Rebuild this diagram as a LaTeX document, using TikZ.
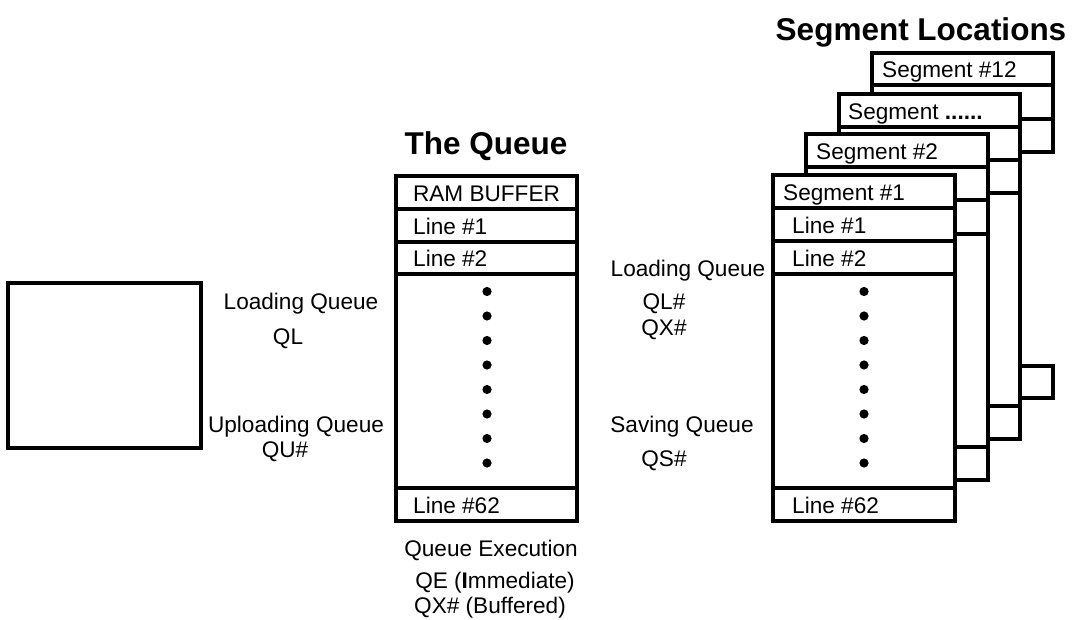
\documentclass[tikz,border=0pt]{standalone}
\usepackage{fontspec}
\setmainfont{Liberation Sans}
\begin{document}
\begin{tikzpicture}[x=1pt,y=-1pt,
  box/.style={draw=black,line width=3.6pt,fill=white},
  rowline/.style={draw=black,line width=3.6pt},
  lbl/.style={inner sep=0pt,font=\fontsize{22.6}{26}\selectfont,text height=16.2pt,text depth=0pt},
  ttl/.style={inner sep=0pt,font=\fontsize{31.5}{36}\selectfont\bfseries,text height=22.7pt,text depth=0pt},
  dotmark/.style={fill=black}]
\useasboundingbox (0,0) rectangle (1073,620);

% left box
\draw[box] (8,283) rectangle (201,448);

% titles
\node[ttl] (tq) at (486,143) {The Queue};
\node[ttl] (tsl) at (921,29) {Segment Locations};

% ===== The queue =====
\draw[box] (396,176) rectangle (577,521);
\draw[rowline] (396,209) -- (577,209);
\draw[rowline] (396,242) -- (577,242);
\draw[rowline] (396,274) -- (577,274);
\draw[rowline] (396,488) -- (577,488);
\node[lbl] (qram) at (486.5,193) {RAM BUFFER};
\node[lbl,anchor=west] (ql1) at (413,226) {Line \#1};
\node[lbl,anchor=west] (ql2) at (413,258) {Line \#2};
\node[lbl,anchor=west] (ql62) at (413,505) {Line \#62};
\foreach \i in {0,...,7} {
  \fill[dotmark] (487,{291.5+24.5*\i}) circle (4.6pt);
}

% ===== Segment #12 (back, only visible parts) =====
\draw[box] (872,53) rectangle (1053,152);
\draw[rowline] (872,85) -- (1053,85);
\draw[rowline] (872,119) -- (1053,119);
\draw[box] (872,366) rectangle (1053,398);
\node[lbl,anchor=west] (s12) at (882,69) {Segment \#12};

% ===== Segment ...... =====
\draw[box] (839,94) rectangle (1020,439);
\draw[rowline] (839,127) -- (1020,127);
\draw[rowline] (839,160) -- (1020,160);
\draw[rowline] (839,193) -- (1020,193);
\draw[rowline] (839,406) -- (1020,406);
\node[lbl,anchor=west] (sdd) at (848,111) {Segment \textbf{......}};

% ===== Segment #2 =====
\draw[box] (806,134) rectangle (988,480);
\draw[rowline] (806,167) -- (988,167);
\draw[rowline] (806,200) -- (988,200);
\draw[rowline] (806,234) -- (988,234);
\draw[rowline] (806,447) -- (988,447);
\node[lbl,anchor=west] (s2) at (816,151) {Segment \#2};

% ===== Segment #1 =====
\draw[box] (773,175) rectangle (955,521);
\draw[rowline] (773,208) -- (955,208);
\draw[rowline] (773,241) -- (955,241);
\draw[rowline] (773,274) -- (955,274);
\draw[rowline] (773,488) -- (955,488);
\node[lbl,anchor=west] (s1) at (783,192) {Segment \#1};
\node[lbl,anchor=west] (s1l1) at (792,225) {Line \#1};
\node[lbl,anchor=west] (s1l2) at (792,258) {Line \#2};
\node[lbl,anchor=west] (s1l62) at (792,505) {Line \#62};
\foreach \i in {0,...,7} {
  \fill[dotmark] (864,{291.5+24.5*\i}) circle (4.6pt);
}

% ===== left labels =====
\node[lbl] (lq) at (301,301) {Loading Queue};
\node[lbl] (ql) at (288,336) {QL};
\node[lbl] (uq) at (296,424) {Uploading Queue};
\node[lbl] (qu) at (285,449) {QU\#};

% ===== right labels =====
\node[lbl] (lq2) at (688,268) {Loading Queue};
\node[lbl] (qlh) at (664,301) {QL\#};
\node[lbl] (qxh) at (664,327) {QX\#};
\node[lbl] (sq) at (682,424) {Saving Queue};
\node[lbl] (qs) at (664,458) {QS\#};

% ===== bottom labels =====
\node[lbl] (qe) at (491,548) {Queue Execution};
\node[lbl] (qei) at (495,580) {QE (\textbf{I}mmediate)};
\node[lbl] (qxb) at (490,605) {QX\# (Buffered)};
\end{tikzpicture}
\end{document}
